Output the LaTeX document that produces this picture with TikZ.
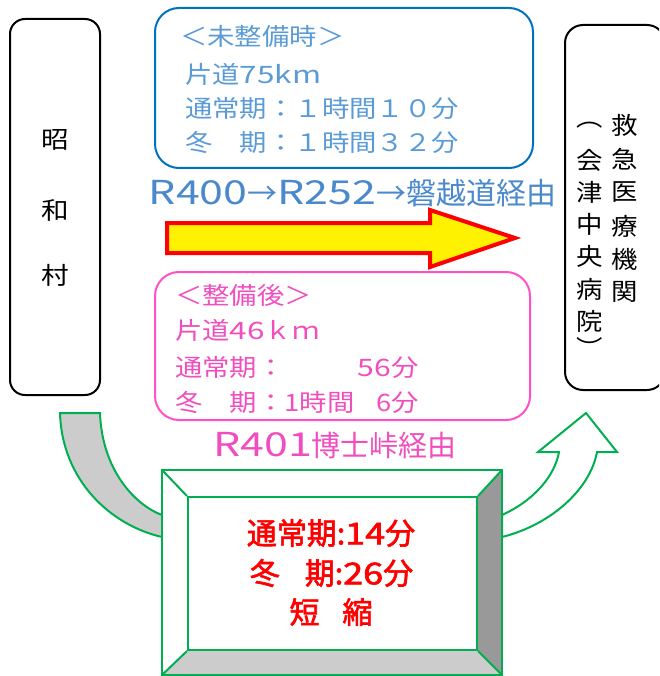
\documentclass[tikz,border=0pt]{standalone}
\usepackage{fontspec}
\setmainfont{Noto Sans CJK JP}
\newfontfamily\jpbold[FakeBold=2]{Noto Sans CJK JP}
\newcommand\wx[2]{\scalebox{#1}[1]{#2}}
\newcommand\lat[1]{{\fontsize{33}{36}\selectfont\scalebox{1.3}[1]{#1}}}
\definecolor{bluebd}{HTML}{0070C0}
\definecolor{bluetx}{HTML}{5B9BD5}
\definecolor{routeblue}{HTML}{4A89CC}
\definecolor{pinkbd}{HTML}{FF50C8}
\definecolor{pinktx}{HTML}{F04EBE}
\definecolor{grn}{HTML}{00B050}
\definecolor{lgray}{HTML}{CCCCCC}
\definecolor{dgray}{HTML}{999999}
\begin{document}
\begin{tikzpicture}[x=1pt,y=-1pt,
  rbox/.style={draw, line width=2pt, rounded corners=#1, inner sep=0pt},
  vch/.style={inner sep=0pt, font=\fontsize{24}{28}\selectfont},
  btxt/.style={inner sep=0pt, anchor=west, text=bluetx, font=\fontsize{24}{28}\selectfont},
  ptxt/.style={inner sep=0pt, anchor=west, text=pinktx, font=\fontsize{24}{28}\selectfont},
  rtxt/.style={inner sep=0pt, text=red, font=\jpbold\fontsize{30}{34}\selectfont},
  grnline/.style={draw=grn, line width=2pt, line join=miter}]
\useasboundingbox (0,0) rectangle (659,676);
\clip (0,0) rectangle (659,676);

% left box: Showa village
\node[rbox=15pt, minimum width=90pt, minimum height=376pt] (showa) at (55,207) {};
\node[vch] (s1) at (55,140) {\wx{1.15}{昭}};
\node[vch] (s2) at (55,210) {\wx{1.15}{和}};
\node[vch] (s3) at (55,275) {\wx{1.15}{村}};

% right box: hospital
\node[rbox=18pt, minimum width=100pt, minimum height=365pt] (hosp) at (615,207.5) {};
\foreach \c/\y [count=\i] in {救/125,急/159,医/192,療/226,機/259,関/292}
  \node[vch] (h\i) at (625,\y) {\wx{1.1}{\c}};
\foreach \c/\y [count=\i] in {︵/125,会/160,津/192,中/224,央/256,病/289,院/321,︶/347}
  \node[vch] (k\i) at (590,\y) {\wx{1.1}{\c}};

% blue box (before)
\node[rbox=24pt, draw=bluebd, minimum width=378pt, minimum height=160pt] (before) at (344,88) {};
\node[btxt] (b1) at (180,36) {\wx{1.14}{＜未整備時＞}};
\node[btxt] (b2) at (185,74) {\wx{1.14}{片道\wx{1.15}{75km}}};
\node[btxt] (b3) at (185,108) {\wx{1.14}{通常期：１時間１０分}};
\node[btxt] (b4) at (185,142) {\wx{1.14}{冬　期：１時間３２分}};

\node[inner sep=0pt, text=routeblue, font=\fontsize{30}{34}\selectfont] (route1) at (352.5,193) {\lat{R400}→\lat{R252}→磐越道経由};

% big yellow arrow
\draw[draw=red, fill=yellow, line width=4pt, line join=miter]
  (167,223) -- (430,223) -- (430,210) -- (515,238) -- (430,267) -- (430,253) -- (167,253) -- cycle;

% pink box (after)
\node[rbox=24pt, draw=pinkbd, minimum width=375pt, minimum height=148pt] (after) at (342.5,346) {};
\node[ptxt] (p1) at (175,295) {\wx{1.14}{＜整備後＞}};
\node[ptxt] (p2) at (175,330) {\wx{1.14}{片道\wx{1.15}{46}ｋｍ}};
\node[ptxt] (p3) at (175,367) {\wx{1.14}{通常期：\hspace{64pt}\wx{1.1}{56}分}};
\node[ptxt] (p4) at (175,402) {\wx{1.14}{冬　期：1時間\hspace{19pt}6分}};

\node[inner sep=0pt, text=pinktx, font=\fontsize{29}{34}\selectfont] (route2) at (335,445) {\lat{R401}博士峠経由};

% curved arrows
\draw[grnline, fill=lgray]
  (60,413) -- (100,413) .. controls (102,470) and (135,505) .. (162,515)
  -- (162,537) .. controls (110,525) and (62,480) .. (60,413) -- cycle;
\draw[grnline, fill=white]
  (502,515) .. controls (535,500) and (555,475) .. (559,452) -- (538,452) -- (586,413)
  -- (617,452) -- (597,452) .. controls (590,490) and (550,525) .. (502,537) -- cycle;

% green bevel box
\fill[white] (162,470) rectangle (502,675);
\fill[dgray] (502,470) -- (477,497) -- (477,650) -- (502,675) -- cycle;
\fill[lgray] (162,675) -- (188,650) -- (477,650) -- (502,675) -- cycle;
\draw[grnline] (162,470) rectangle (502,675);
\node[draw=grn, line width=2pt, inner sep=0pt, minimum width=289pt, minimum height=153pt] (result) at (332.5,573.5) {};
\draw[grnline] (162,470) -- (result.north west);
\draw[grnline] (502,470) -- (result.north east);
\draw[grnline] (162,675) -- (result.south west);
\draw[grnline] (502,675) -- (result.south east);
\node[rtxt] (r1) at (331,533) {通常期:\wx{1.2}{14}分};
\node[rtxt] (r2) at (331.5,573) {冬\hspace{25pt}期:\wx{1.2}{26}分};
\node[rtxt] (r3) at (331,612) {短\hspace{23pt}縮};
\end{tikzpicture}
\end{document}
